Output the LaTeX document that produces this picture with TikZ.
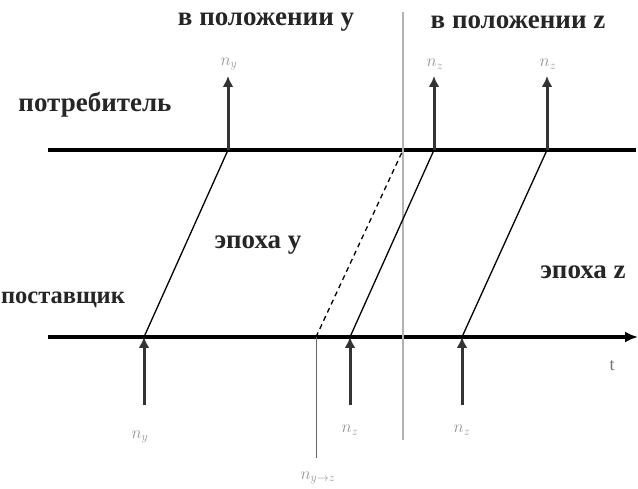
\documentclass[tikz,border=0pt]{standalone}
\usepackage{fontspec}
\setmainfont{Liberation Serif}
\usetikzlibrary{arrows.meta}
\begin{document}
\begin{tikzpicture}[x=1pt,y=-1pt,
  axis/.style={line width=3.4pt},
  tick/.style={line width=3pt,-{Latex[length=11pt,width=11pt]}},
  msg/.style={line width=1.3pt},
  lbl/.style={font=\fontsize{27}{30}\selectfont\bfseries,text=black!85,inner sep=0pt},
  nlbl/.style={font=\fontsize{17}{19}\selectfont,text=gray!85,inner sep=0pt}]
\useasboundingbox (0,0) rectangle (638,489);
% axes
\coordinate (cL) at (48,150); \coordinate (cR) at (636,150);
\coordinate (sL) at (48,337); \coordinate (sR) at (638,337);
\draw[axis] (cL) -- (cR);
\draw[axis,-{Latex[length=13pt,width=11pt]}] (sL) -- (sR);
% epoch boundary
\coordinate (gT) at (403,12); \coordinate (gB) at (403,440);
\draw[gray!60,line width=1.6pt] (gT) -- (gB);
\coordinate (yzT) at (316,337); \coordinate (yzB) at (316,458);
\draw[gray!80!black,line width=0.9pt] (yzT) -- (yzB);
% supplier points
\foreach \n/\x in {a/144,b/350,c/462}{
  \coordinate (s\n) at (\x,337);
  \coordinate (s\n t) at (\x,405);
}
\foreach \n/\x in {a/228,b/434,c/547}{
  \coordinate (c\n) at (\x,150);
  \coordinate (c\n t) at (\x,76);
}
\coordinate (sd) at (316,337); \coordinate (cd) at (403,150);
% messages
\draw[msg] (sa) -- (ca);
\draw[msg] (sb) -- (cb);
\draw[msg] (sc) -- (cc);
\draw[msg,dash pattern=on 5pt off 4pt] (sd) -- (cd);
% arrows
\foreach \n in {a,b,c}{
  \draw[tick,black!80] (s\n t) -- (s\n);
  \draw[tick,black!80] (c\n) -- (c\n t);
}
% labels
\node[lbl] (h1) at (266,22) {в положении y};
\node[lbl] (h2) at (518,22) {в положении z};
\node[lbl] (cons) at (95,105) {потребитель};
\node[lbl,font=\fontsize{24.5}{28}\selectfont\bfseries] (sup) at (63,300) {поставщик};
\node[lbl] (ey) at (258,245) {эпоха y};
\node[lbl] (ez) at (583,272) {эпоха z};
\node[font=\fontsize{18}{20}\selectfont,text=gray!90!black,inner sep=0pt] (t) at (612,366) {t};
\node[nlbl] (l1) at (229,64) {$n_y$};
\node[nlbl] (l2) at (435,64) {$n_z$};
\node[nlbl] (l3) at (548,64) {$n_z$};
\node[nlbl] (l4) at (140,437) {$n_y$};
\node[nlbl] (l5) at (350,430) {$n_z$};
\node[nlbl] (l6) at (462,430) {$n_z$};
\node[nlbl] (l7) at (318,478) {$n_{y\to z}$};
\end{tikzpicture}
\end{document}
